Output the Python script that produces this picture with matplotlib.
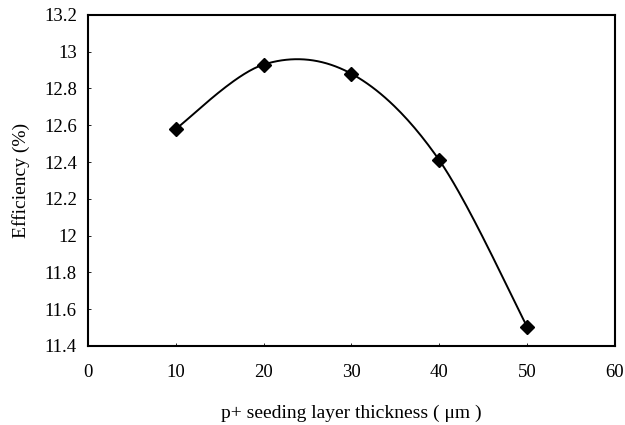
import numpy as np
import matplotlib
matplotlib.use("Agg")
import matplotlib.pyplot as plt

thickness = [10, 20, 30, 40, 50]
efficiency = [12.58, 12.93, 12.88, 12.41, 11.505]
xticks = [0, 10, 20, 30, 40, 50, 60]
yticks = [11.4, 11.6, 11.8, 12.0, 12.2, 12.4, 12.6, 12.8, 13.0, 13.2]
ytick_labels = ["11.4", "11.6", "11.8", "12", "12.2", "12.4", "12.6", "12.8", "13", "13.2"]

plt.rcParams['font.family'] = ['Liberation Serif', 'DejaVu Serif']


def smooth(xs, ys, n=40):
    # Excel-like smoothed line: cubic Bezier with Catmull-Rom control points
    xs = np.asarray(xs, float); ys = np.asarray(ys, float)
    P = np.column_stack([xs, ys])
    out = []
    for i in range(len(P) - 1):
        p0 = P[i - 1] if i > 0 else P[i]
        p1 = P[i]; p2 = P[i + 1]
        p3 = P[i + 2] if i + 2 < len(P) else P[i + 1]
        c1 = p1 + (p2 - p0) / 6.0
        c2 = p2 - (p3 - p1) / 6.0
        t = np.linspace(0, 1, n)[:, None]
        seg = ((1 - t) ** 3) * p1 + 3 * ((1 - t) ** 2) * t * c1 + 3 * (1 - t) * t ** 2 * c2 + t ** 3 * p2
        out.append(seg if i == 0 else seg[1:])
    S = np.vstack(out)
    return S[:, 0], S[:, 1]


fig = plt.figure(figsize=(6.25, 4.25), dpi=100)
ax = fig.add_axes([0.1408, 0.186, 0.843, 0.779])

sx, sy = smooth(thickness, efficiency)
ax.plot(sx, sy, color='black', lw=1.4)
ax.plot(thickness, efficiency, linestyle='none', marker='D', color='black', markersize=7.5)

ax.set_xlim(0, 60)
ax.set_ylim(11.4, 13.2)
ax.set_xticks(xticks)
ax.set_xticklabels([str(v) for v in xticks])
ax.set_yticks(yticks)
ax.set_yticklabels(ytick_labels)
ax.tick_params(axis='both', direction='in', length=2, width=0.6, labelsize=13.5, colors='black')
ax.tick_params(axis='x', pad=13)
ax.tick_params(axis='y', pad=8)
for s in ax.spines.values():
    s.set_linewidth(1.5)
    s.set_color('black')

ax.set_xlabel('p+ seeding layer thickness ( μm )', fontsize=14, labelpad=17)
ax.set_ylabel('Efficiency (%)', fontsize=14, labelpad=10)

fig.savefig('out.png', dpi=100)
